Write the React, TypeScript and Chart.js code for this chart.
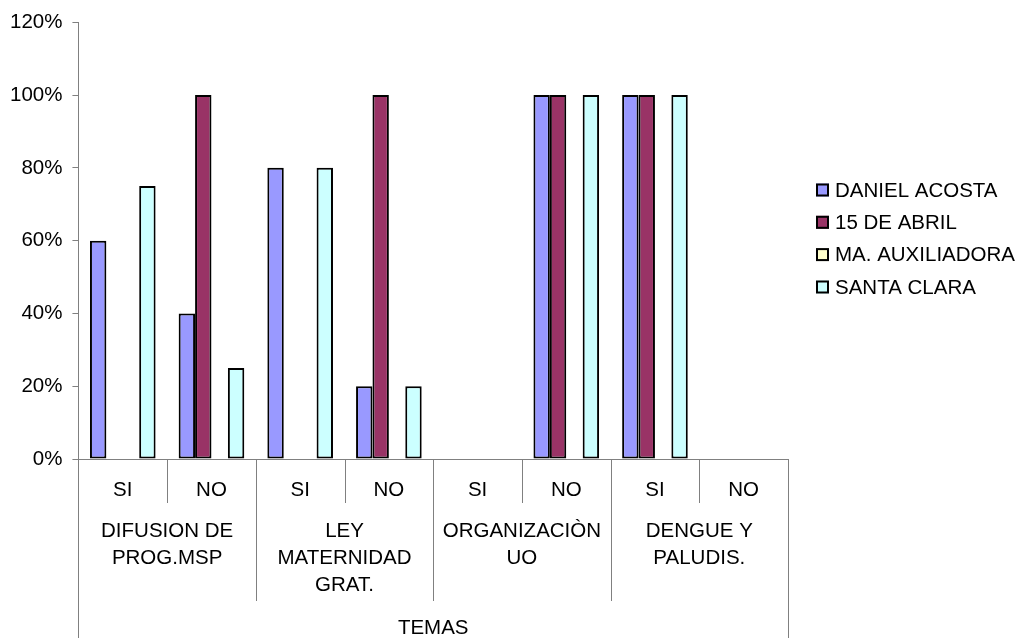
import React, { useEffect, useRef } from 'react';
import { Chart, registerables } from 'chart.js';

Chart.register(...registerables);

const categories = ['SI', 'NO', 'SI', 'NO', 'SI', 'NO', 'SI', 'NO'];
const groupLabels = [
  ['DIFUSION DE', 'PROG.MSP'],
  ['LEY', 'MATERNIDAD', 'GRAT.'],
  ['ORGANIZACIÒN', 'UO'],
  ['DENGUE Y', 'PALUDIS.'],
];
const axisTitle = 'TEMAS';
const seriesNames = ['DANIEL ACOSTA', '15 DE ABRIL', 'MA. AUXILIADORA', 'SANTA CLARA'];
const danielAcosta = [0.6, 0.4, 0.8, 0.2, 0, 1, 1, 0];
const quinceDeAbril = [0, 1, 0, 1, 0, 1, 1, 0];
const maAuxiliadora = [0, 0, 0, 0, 0, 0, 0, 0];
const santaClara = [0.75, 0.25, 0.8, 0.2, 0, 1, 1, 0];
const seriesColors = ['#9999FF', '#993366', '#FFFFCC', '#CCFFFF'];

const FONT = '"Liberation Sans", Arial, sans-serif';
const FS = 20.5;
const GRID = '#808080';

const labelsPlugin = {
  id: 'multiLevelLabels',
  afterDraw(chart: any) {
    const ctx = chart.ctx;
    const xs = chart.scales.x;
    const area = chart.chartArea;
    const n = categories.length;
    const half = (xs.getPixelForValue(1) - xs.getPixelForValue(0)) / 2;
    ctx.save();
    ctx.font = `${FS}px ${FONT}`;
    ctx.fillStyle = '#000';
    ctx.textAlign = 'center';
    ctx.textBaseline = 'middle';
    categories.forEach((c, i) => {
      ctx.fillText(c, xs.getPixelForValue(i), area.bottom + 31);
    });
    groupLabels.forEach((lines, g) => {
      const cx = (xs.getPixelForValue(2 * g) + xs.getPixelForValue(2 * g + 1)) / 2;
      lines.forEach((t, k) => ctx.fillText(t, cx, area.bottom + 72 + k * 27));
    });
    ctx.fillText(axisTitle, (area.left + area.right) / 2, area.bottom + 169);
    ctx.strokeStyle = GRID;
    ctx.lineWidth = 1;
    for (let b = 0; b <= n; b++) {
      const px = Math.round(b === 0 ? xs.getPixelForValue(0) - half : xs.getPixelForValue(b - 1) + half) + 0.5;
      let end = area.bottom + 44;
      if (b === 0 || b === n) end = chart.height;
      else if (b % 2 === 0) end = area.bottom + 142;
      ctx.beginPath();
      ctx.moveTo(px, area.bottom);
      ctx.lineTo(px, end);
      ctx.stroke();
    }
    // legend
    const lx = 816;
    const ys = [190, 222.3, 254.6, 287];
    seriesNames.forEach((name, i) => {
      const y = ys[i];
      ctx.fillStyle = seriesColors[i];
      ctx.fillRect(lx, y - 6.5, 13, 13);
      ctx.strokeStyle = '#000';
      ctx.lineWidth = 2;
      ctx.strokeRect(lx + 1, y - 5.5, 11, 11);
      ctx.fillStyle = '#000';
      ctx.textAlign = 'left';
      ctx.fillText(name, lx + 19, y + 1);
    });
    ctx.restore();
  },
};

export default function App() {
  const ref = useRef<HTMLCanvasElement>(null);
  useEffect(() => {
    if (!ref.current) return;
    const series = [danielAcosta, quinceDeAbril, maAuxiliadora, santaClara];
    const chart = new Chart(ref.current, {
      type: 'bar',
      data: {
        labels: categories,
        datasets: series.map((d, i) => ({
          label: seriesNames[i],
          data: d,
          backgroundColor: seriesColors[i],
          borderColor: '#000',
          borderWidth: 2,
          borderSkipped: false,
          categoryPercentage: 0.74,
          barPercentage: 1,
        })),
      },
      options: {
        animation: false,
        responsive: false,
        maintainAspectRatio: false,
        layout: { padding: { left: 0, right: 232, top: 22, bottom: 171 } },
        plugins: { legend: { display: false }, tooltip: { enabled: false } },
        scales: {
          x: {
            grid: { display: false },
            ticks: { display: false },
            border: { display: true, color: GRID, width: 1 },
          },
          y: {
            min: 0,
            max: 1.2,
            ticks: {
              stepSize: 0.2,
              color: '#000',
              padding: 10,
              font: { family: FONT, size: FS },
              callback: (v: any) => `${Math.round(Number(v) * 100)}%`,
            },
            grid: { drawOnChartArea: false, drawTicks: true, tickLength: 6, color: GRID },
            border: { display: true, color: GRID, width: 1 },
          },
        },
      },
      plugins: [labelsPlugin],
    });
    return () => chart.destroy();
  }, []);
  return (
    <div style={{ position: 'fixed', left: 0, top: 0, width: 1020, height: 638, background: '#fff' }}>
      <canvas ref={ref} width={1020} height={638} style={{ width: 1020, height: 638 }} />
    </div>
  );
}
